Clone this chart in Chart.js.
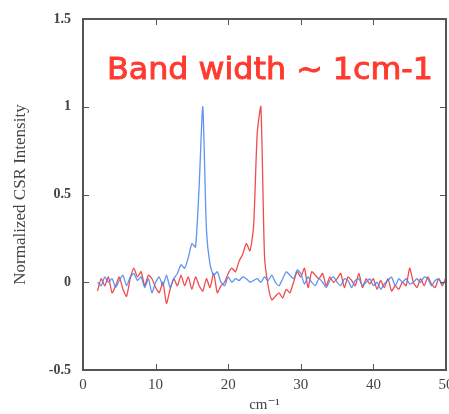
<!DOCTYPE html>
<html>
<head>
<meta charset="utf-8">
<script src="https://cdn.jsdelivr.net/npm/chart.js@4"></script>
<style>
  html, body { margin: 0; padding: 0; background: #fff; }
  #wrap { width: 449px; height: 414px; }
</style>
</head>
<body>
<div id="wrap"><canvas id="csr-chart" width="449" height="414"></canvas></div>
<script>
// wavenumber grid (cm-1)
const wavenumbers = [
  2, 2.5, 3, 3.5, 4, 4.5, 5, 5.5, 6, 6.5, 7, 7.5, 8, 8.5, 9, 9.5,
  10, 10.5, 11, 11.5, 12, 12.5, 13, 13.5, 14, 14.5, 15, 15.5, 16, 16.5, 17, 17.5,
  18, 18.5, 19, 19.5, 20, 20.5, 21, 21.5, 22, 22.5, 23, 23.5, 24, 24.5, 25, 25.5,
  26, 26.5, 27, 27.5, 28, 28.5, 29, 29.5, 30, 30.5, 31, 31.5, 32, 32.5, 33, 33.5,
  34, 34.5, 35, 35.5, 36, 36.5, 37, 37.5, 38, 38.5, 39, 39.5, 40, 40.5, 41, 41.5,
  42, 42.5, 43, 43.5, 44, 44.5, 45, 45.5, 46, 46.5, 47, 47.5, 48, 48.5, 49, 49.5, 50
];

// blue spectrum (peak ~16.5)
const blueIntensity = [
  0.0, -0.02, 0.03, 0.0, 0.02, -0.03, 0.01, 0.04, -0.02, 0.03, 0.05, 0.01, 0.03, -0.03, 0.02, -0.06,
  0.0, 0.03, -0.02, 0.04, -0.03, 0.02, 0.05, 0.1, 0.08, 0.14, 0.22, 0.2, 0.55, 1.0, 0.3, 0.1,
  0.04, 0.06, 0.0, -0.02, 0.03, 0.0, 0.02, 0.01, 0.03, 0.02, 0.0, 0.01, 0.02, 0.0, 0.03, 0.01,
  0.04, 0.0, -0.02, 0.02, 0.06, 0.04, 0.02, 0.07, 0.05, -0.01, 0.03, 0.0, -0.02, 0.02, 0.0, -0.03,
  0.01, 0.03, 0.0, -0.02, 0.02, 0.01, -0.03, 0.01, 0.02, -0.02, 0.0, 0.02, -0.02, 0.0, -0.04, -0.01,
  0.01, 0.03, -0.02, 0.02, 0.0, 0.02, -0.01, 0.0, 0.02, 0.0, 0.03, 0.02, -0.02, 0.01, 0.02, -0.01, 0.01
];

// red spectrum (peak ~24.5)
const redIntensity = [
  -0.05, 0.02, -0.02, 0.03, -0.06, -0.02, 0.03, -0.04, -0.08, 0.02, 0.08, 0.03, 0.06, -0.02, 0.04, 0.02,
  -0.03, -0.06, 0.0, -0.12, -0.04, 0.02, -0.02, 0.04, -0.02, 0.03, -0.04, 0.03, -0.02, -0.05, 0.02, -0.03,
  0.05, -0.06, -0.02, 0.0, 0.05, 0.08, 0.06, 0.12, 0.16, 0.22, 0.18, 0.32, 0.85, 1.0, 0.15, -0.02,
  -0.1, -0.08, -0.06, -0.09, -0.04, -0.06, 0.0, 0.06, 0.03, 0.08, -0.03, 0.06, 0.04, 0.02, 0.05, -0.02,
  0.03, 0.0, 0.02, 0.05, -0.03, 0.03, 0.01, -0.02, 0.05, -0.03, 0.02, -0.01, 0.02, -0.04, 0.01, -0.03,
  0.02, -0.05, -0.02, -0.04, 0.0, -0.02, 0.08, 0.0, -0.03, 0.02, -0.02, 0.03, -0.01, -0.03, 0.02, -0.02, 0.03
];

const xTicks = [0, 10, 20, 30, 40, 50];
const yTicks = [-0.5, 0, 0.5, 1, 1.5];
const yTickLabels = ['-0.5', '0', '0.5', '1', '1.5'];

const FRAME = '#555';
const serif = '"Liberation Serif", "DejaVu Serif", serif';

// рамка и внутренние засечки со всех четырех сторон
const framePlugin = {
    id: 'frame',
    afterDatasetsDraw(chart) {
        const { ctx, chartArea: a, scales } = chart;
        ctx.save();
        ctx.strokeStyle = FRAME;
        ctx.lineWidth = 1;
        xTicks.forEach(v => {
            const px = Math.round(scales.x.getPixelForValue(v)) + 0.5;
            ctx.beginPath();
            ctx.moveTo(px, a.bottom); ctx.lineTo(px, a.bottom - 6);
            ctx.moveTo(px, a.top); ctx.lineTo(px, a.top + 6);
            ctx.stroke();
        });
        yTicks.forEach(v => {
            const py = Math.round(scales.y.getPixelForValue(v)) + 0.5;
            ctx.beginPath();
            ctx.moveTo(a.left, py); ctx.lineTo(a.left + 6, py);
            ctx.moveTo(a.right, py); ctx.lineTo(a.right - 6, py);
            ctx.stroke();
        });
        ctx.lineWidth = 2;
        ctx.strokeRect(a.left, a.top, a.right - a.left, a.bottom - a.top);
        ctx.restore();
    }
};

// красная надпись внутри графика
const annotationPlugin = {
    id: 'bandText',
    afterDraw(chart) {
        const { ctx, chartArea: a } = chart;
        ctx.save();
        ctx.fillStyle = '#ff3a2e';
        ctx.strokeStyle = '#ff3a2e';
        ctx.lineWidth = 0.9;
        ctx.font = '30px "DejaVu Sans", sans-serif';
        ctx.textBaseline = 'middle';
        ctx.textAlign = 'left';
        const text = 'Band width ~ 1cm-1';
        const w = ctx.measureText(text).width;
        const target = 326;
        ctx.translate(107, 71);
        ctx.scale(target / w, 1);
        ctx.fillText(text, 0, 0);
        ctx.strokeText(text, 0, 0);
        ctx.restore();
    }
};

const ctx = document.getElementById('csr-chart').getContext('2d');

new Chart(ctx, {
    type: 'line',
    data: {
        datasets: [
            {
                label: 'blue',
                data: wavenumbers.map((x, i) => ({ x: x, y: blueIntensity[i] })),
                borderColor: 'rgba(80, 135, 240, 0.9)',
                borderWidth: 1.3,
                pointRadius: 0,
                tension: 0.2
            },
            {
                label: 'red',
                data: wavenumbers.map((x, i) => ({ x: x, y: redIntensity[i] })),
                borderColor: 'rgba(240, 55, 55, 0.9)',
                borderWidth: 1.3,
                pointRadius: 0,
                tension: 0.2
            }
        ]
    },
    options: {
        responsive: false,
        animation: false,
        layout: { padding: { top: 19, right: 3, left: 0, bottom: 0 } },
        plugins: { legend: { display: false }, tooltip: { enabled: false } },
        scales: {
            x: {
                type: 'linear',
                min: 0,
                max: 50,
                afterBuildTicks: s => { s.ticks = xTicks.map(v => ({ value: v })); },
                grid: { display: false, drawTicks: false },
                border: { display: false },
                ticks: {
                    color: '#444',
                    padding: 6,
                    font: { family: serif, size: 15 }
                },
                title: {
                    display: true,
                    text: 'cm\u207B\u00B9',
                    color: '#444',
                    padding: { top: 2, bottom: 0 },
                    font: { family: serif, size: 15 }
                },
                afterFit: s => { s.height = 44; s.paddingLeft = 0; s.paddingRight = 0; }
            },
            y: {
                min: -0.5,
                max: 1.5,
                afterBuildTicks: s => { s.ticks = yTicks.map(v => ({ value: v })); },
                grid: { display: false, drawTicks: false },
                border: { display: false },
                ticks: {
                    color: '#444',
                    padding: 12,
                    font: { family: serif, size: 14, weight: 'bold' },
                    callback: v => yTickLabels[yTicks.indexOf(v)]
                },
                title: {
                    display: true,
                    text: 'Normalized CSR Intensity',
                    color: '#444',
                    padding: { top: 10, bottom: 0 },
                    font: { family: serif, size: 17 }
                },
                afterFit: s => { s.width = 83; s.paddingTop = 0; s.paddingBottom = 0; }
            }
        }
    },
    plugins: [framePlugin, annotationPlugin]
});
</script>
</body>
</html>
